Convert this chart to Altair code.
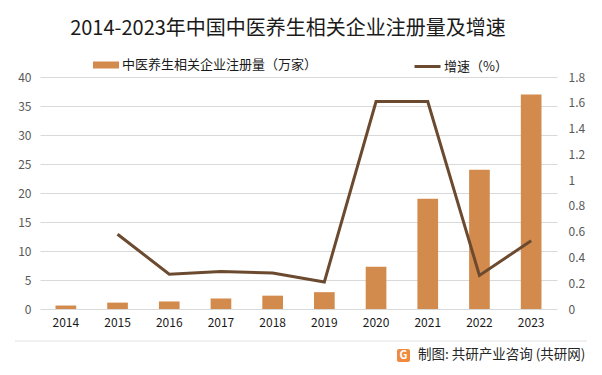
import altair as alt
import pandas as pd

years = ["2014", "2015", "2016", "2017", "2018", "2019", "2020", "2021", "2022", "2023"]
registrations = [0.6, 1.1, 1.3, 1.8, 2.3, 2.9, 7.3, 19.0, 24.0, 37.0]
growth = [None, 0.58, 0.27, 0.29, 0.28, 0.21, 1.61, 1.61, 0.26, 0.53]

bar_name = "中医养生相关企业注册量（万家）"
line_name = "增速（%）"
title_text = "2014-2023年中国中医养生相关企业注册量及增速"
footer_text = "制图: 共研产业咨询 (共研网)"

left_ticks = [0, 5, 10, 15, 20, 25, 30, 35, 40]
right_ticks = [0, 0.2, 0.4, 0.6, 0.8, 1.0, 1.2, 1.4, 1.6, 1.8]

FONT = "Noto Sans CJK SC"
BAR_COLOR = "#D38B4D"
LINE_COLOR = "#6B4A2F"

df = pd.DataFrame({
    "year": years,
    "reg": registrations,
    "growth": growth,
    "bar_s": [bar_name] * len(years),
    "line_s": [line_name] * len(years),
})

x_enc = alt.X(
    "year:N", sort=years, title=None,
    scale=alt.Scale(paddingInner=0.6, paddingOuter=0.3),
    axis=alt.Axis(labelAngle=0, labelFontSize=12, labelColor="#1a1a1a", labelFont=FONT,
                  labelPadding=8, ticks=False, domain=False, grid=False),
)

bars = alt.Chart(df).mark_bar(color=BAR_COLOR).encode(
    x=x_enc,
    y=alt.Y("reg:Q", title=None, scale=alt.Scale(domain=[0, 40], nice=False),
            axis=alt.Axis(values=left_ticks, labelFontSize=12, labelColor="#595959", labelFont=FONT,
                          labelPadding=9, ticks=False, domain=False, grid=True,
                          gridColor="#d9d9d9", gridWidth=1)),
    color=alt.Color("bar_s:N", scale=alt.Scale(range=[BAR_COLOR]),
                    legend=alt.Legend(title=None, orient="none", legendX=53, legendY=-25,
                                      symbolType="M-1,-0.27H1V0.27H-1Z", symbolSize=676,
                                      symbolStrokeWidth=0, symbolOpacity=1,
                                      labelFontSize=13, labelFont=FONT, labelColor="#1a1a1a",
                                      labelOffset=3, labelLimit=0, padding=0)),
)

line = alt.Chart(df).mark_line(strokeWidth=3, color=LINE_COLOR).encode(
    x=x_enc,
    y=alt.Y("growth:Q", title=None, scale=alt.Scale(domain=[0, 1.8], nice=False),
            axis=alt.Axis(orient="right", values=right_ticks, format=".1~f", labelFontSize=12,
                          labelColor="#595959", labelFont=FONT, labelPadding=11,
                          ticks=False, domain=False, grid=False)),
    stroke=alt.Stroke("line_s:N", scale=alt.Scale(range=[LINE_COLOR]),
                      legend=alt.Legend(title=None, orient="none", legendX=373, legendY=-25,
                                        symbolType="stroke", symbolSize=676, symbolStrokeWidth=3,
                                        labelFontSize=13, labelFont=FONT, labelColor="#1a1a1a",
                                        labelOffset=2, labelLimit=0, padding=0)),
)

one = pd.DataFrame({"t": [title_text], "f": [footer_text], "g": ["G"]})

title = alt.Chart(one).mark_text(fontSize=20, font=FONT, color="#1a1a1a", align="center",
                                 baseline="middle").encode(
    x=alt.value(248), y=alt.value(-48), text="t:N")

footer = alt.Chart(one).mark_text(fontSize=13.5, font=FONT, color="#262626", align="left",
                                  baseline="middle").encode(
    x=alt.value(378), y=alt.value(278), text="f:N")

separator = alt.Chart(one).mark_rule(color="#e3e3e3", strokeWidth=1).encode(
    x=alt.value(-25), x2=alt.value(547), y=alt.value(264))

logo = alt.Chart(one).mark_rect(color="#EF8A3F", cornerRadius=2).encode(
    x=alt.value(357), x2=alt.value(370), y=alt.value(272), y2=alt.value(285))

logo_g = alt.Chart(one).mark_text(fontSize=11, font=FONT, fontWeight="bold", color="white",
                                  align="center", baseline="middle").encode(
    x=alt.value(363.5), y=alt.value(278.5), text="g:N")

chart = alt.layer(bars, line, separator, logo, logo_g, title, footer).resolve_scale(
    y="independent"
).properties(
    width=517, height=232,
    autosize=alt.AutoSizeParams(type="none"),
    padding={"left": 32, "top": 69, "right": 37, "bottom": 58},
).configure_view(stroke=None)

chart.save("out.html", embed_options={"renderer": "svg", "actions": False})
